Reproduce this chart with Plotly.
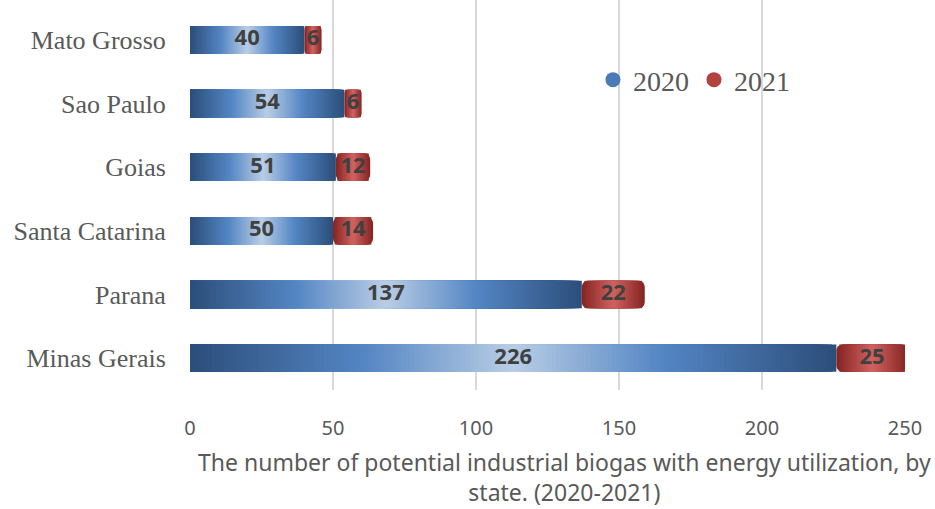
import plotly.graph_objects as go

# ---- data ----
states = ["Mato Grosso", "Sao Paulo", "Goias", "Santa Catarina", "Parana", "Minas Gerais"]
values_2020 = [40, 54, 51, 50, 137, 226]
values_2021 = [6, 6, 12, 14, 22, 25]
x_ticks = [0, 50, 100, 150, 200, 250]
series_names = ["2020", "2021"]
axis_title = "The number of potential industrial biogas with energy utilization, by<br>state. (2020-2021)"

# ---- gradient helpers (dark edges, light centre, as in the original) ----
blue_stops = [(0.0, (44, 78, 122)), (0.27, (84, 134, 196)), (0.5, (185, 205, 229)),
              (0.73, (84, 134, 196)), (1.0, (44, 78, 122))]
red_stops = [(0.0, (135, 38, 36)), (1.0, (205, 96, 93))]


def grad(stops, t):
    for (t0, c0), (t1, c1) in zip(stops[:-1], stops[1:]):
        if t0 <= t <= t1:
            f = (t - t0) / (t1 - t0)
            c = [round(a + (b - a) * f) for a, b in zip(c0, c1)]
            return "rgb(%d,%d,%d)" % tuple(c)
    return "rgb(%d,%d,%d)" % stops[-1][1]


fig = go.Figure()
N = 150
# longest first, shorter ones overlaid on top -> seamless gradient
for k in range(N - 1, -1, -1):
    fig.add_trace(go.Bar(
        y=states, x=[v * (k + 1) / N for v in values_2020], orientation="h",
        marker=dict(color=grad(blue_stops, (k + 0.5) / N), line=dict(width=0)),
        showlegend=False, hoverinfo="skip", name=series_names[0],
    ))

# 2021: nested halves growing out from each segment's centre, rounded at both ends
centres = [a + b / 2 for a, b in zip(values_2020, values_2021)]
M = 12
for j in range(M):
    frac = 1 - j / M
    col = grad(red_stops, j / (M - 1))
    for sign in (-1, 1):
        fig.add_trace(go.Bar(
            y=states, x=[sign * v / 2 * frac for v in values_2021], base=centres, orientation="h",
            marker=dict(color=col, line=dict(width=0), cornerradius=6 if j == 0 else 0),
            showlegend=False, hoverinfo="skip", name=series_names[1],
        ))

label_font = dict(family="Open Sans, Noto Sans, sans-serif", size=22, color="#404040")
fig.add_trace(go.Scatter(
    y=states, x=[v / 2 for v in values_2020], mode="text",
    text=["<b>%d</b>" % v for v in values_2020], textfont=label_font,
    showlegend=False, hoverinfo="skip",
))
fig.add_trace(go.Scatter(
    y=states, x=centres, mode="text",
    text=["<b>%d</b>" % v for v in values_2021], textfont=label_font,
    showlegend=False, hoverinfo="skip",
))

# legend entries
fig.add_trace(go.Scatter(x=[None], y=[None], mode="markers", name=series_names[0],
                         marker=dict(symbol="circle", size=15, color="#4a7bb7")))
fig.add_trace(go.Scatter(x=[None], y=[None], mode="markers", name=series_names[1],
                         marker=dict(symbol="circle", size=15, color="#b4423e")))

fig.add_annotation(
    text=axis_title, xref="paper", yref="paper", x=0.524, y=-0.223,
    xanchor="center", yanchor="middle", showarrow=False,
    font=dict(family="Noto Sans, Open Sans, sans-serif", size=23, color="#595959"),
)

fig.update_layout(
    width=935, height=509,
    margin=dict(l=190, r=30, t=0, b=119),
    paper_bgcolor="white", plot_bgcolor="white",
    barmode="overlay", bargap=0.57,
    showlegend=True,
    legend=dict(orientation="h", x=0.5636, y=0.795, xanchor="left", yanchor="middle",
                font=dict(family="Liberation Serif, Times New Roman, serif", size=28, color="#595959"),
                bgcolor="rgba(0,0,0,0)", itemwidth=30, tracegroupgap=0),
    xaxis=dict(range=[0, 250], tickvals=x_ticks, showgrid=True, gridcolor="#d9d9d9", gridwidth=2,
               zeroline=False, showline=False, ticks="outside", ticklen=20,
               tickcolor="rgba(0,0,0,0)",
               tickfont=dict(family="Noto Sans, Open Sans, sans-serif", size=20, color="#595959")),
    yaxis=dict(range=[5.5, -0.626], showgrid=False, zeroline=False, showline=False,
               ticks="outside", ticklen=18, tickcolor="rgba(0,0,0,0)",
               tickfont=dict(family="Liberation Serif, Times New Roman, serif", size=26, color="#595959")),
)

fig.write_html("out.html")
